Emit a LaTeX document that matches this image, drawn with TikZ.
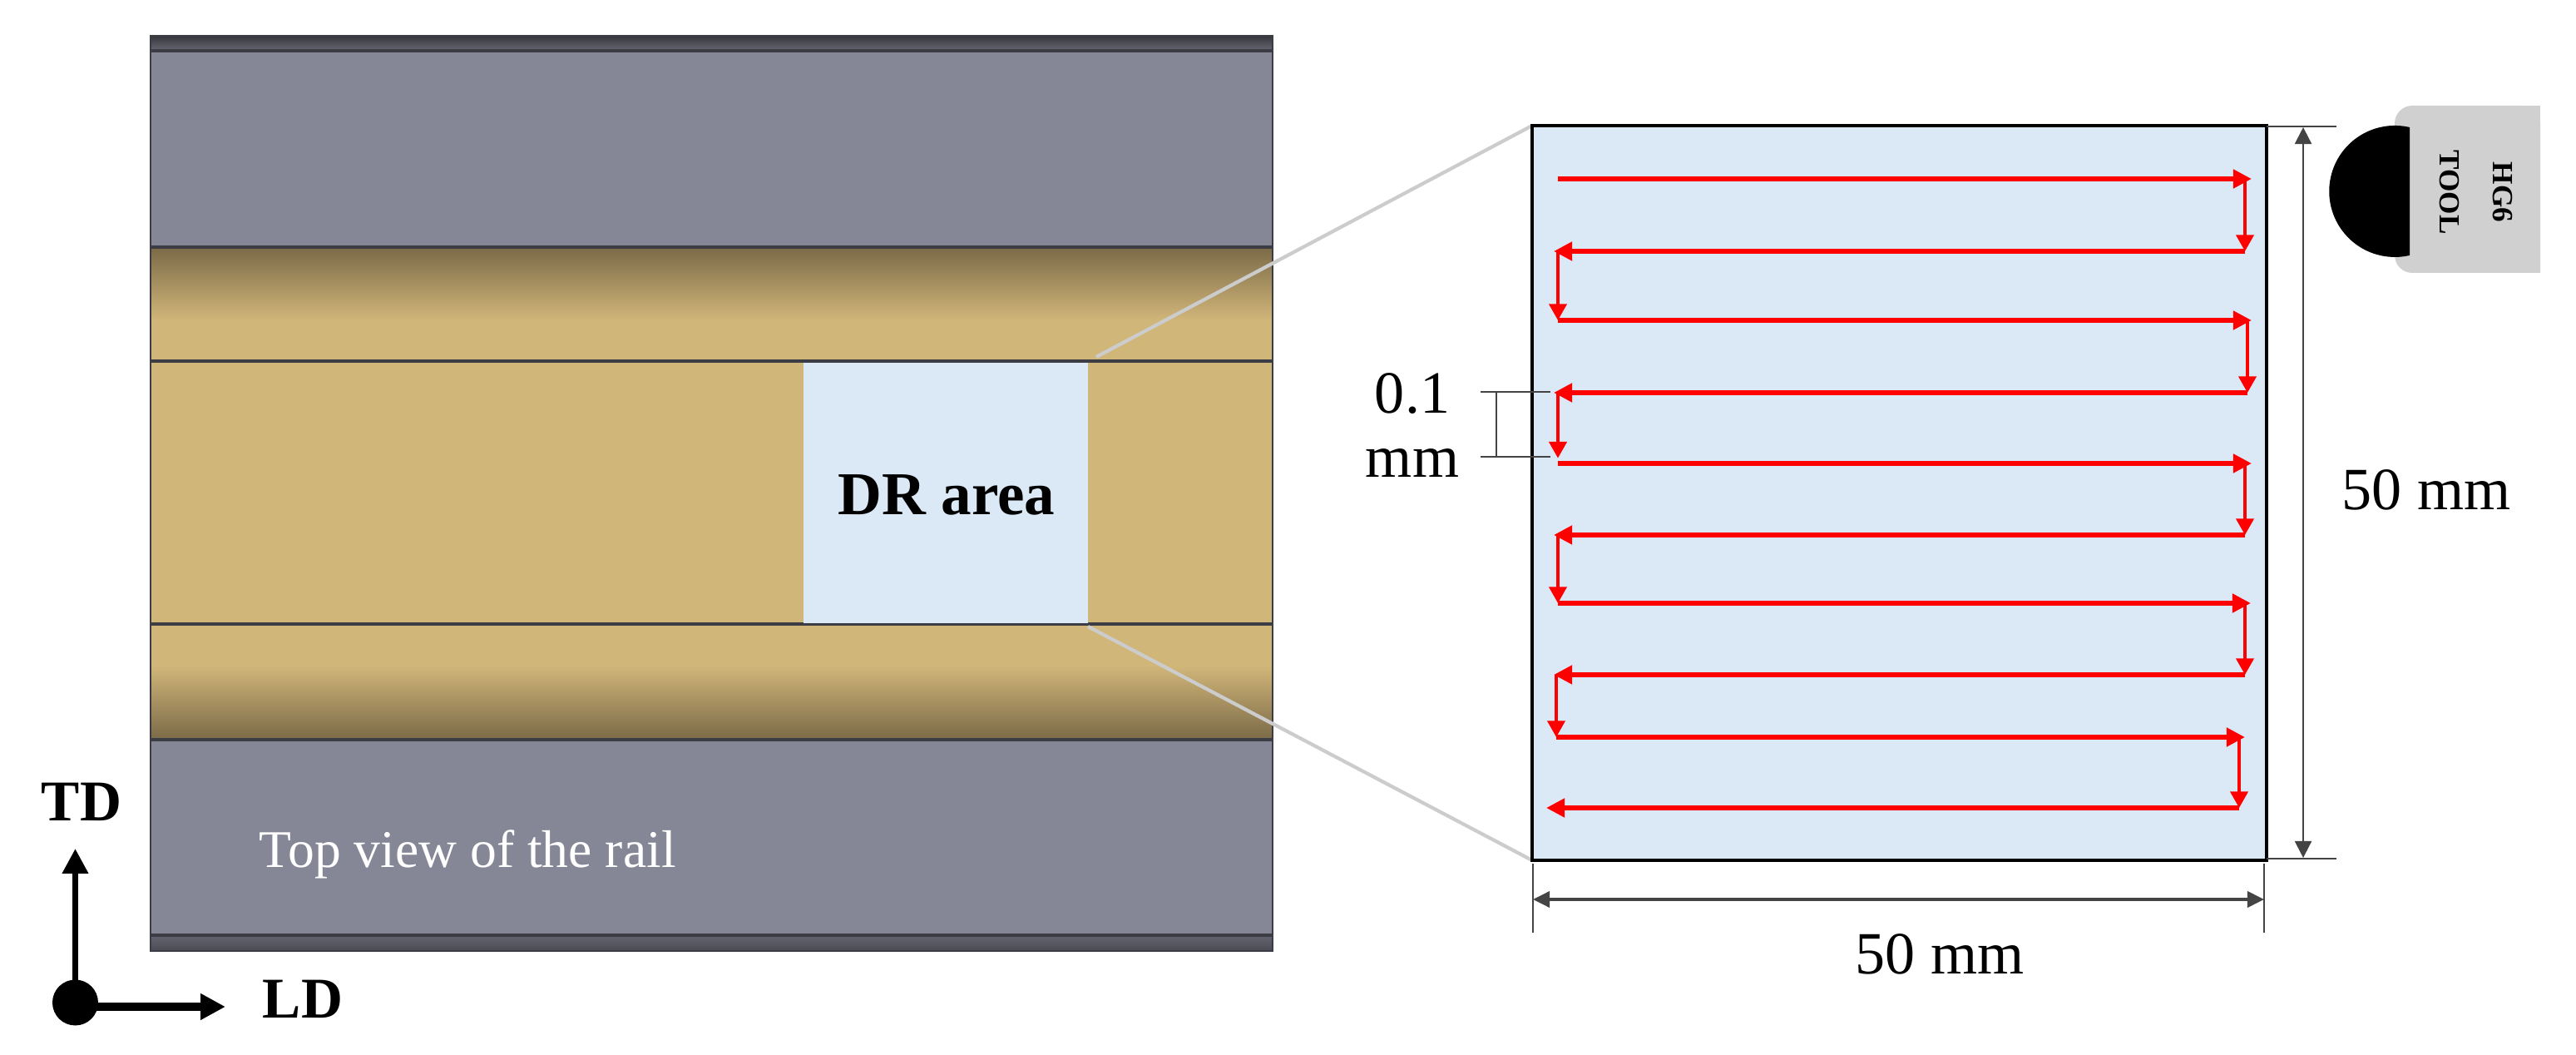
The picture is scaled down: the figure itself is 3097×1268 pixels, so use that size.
\documentclass[tikz,border=0pt]{standalone}
\usepackage{fontspec}
\setmainfont{Liberation Serif}
\usetikzlibrary{arrows.meta}
\definecolor{railgray}{HTML}{858696}
\definecolor{railedge}{HTML}{3C3C44}
\definecolor{railtan}{HTML}{D1B679}
\definecolor{raildark}{HTML}{7B6A48}
\definecolor{drblue}{HTML}{DBE8F6}
\definecolor{dimgray}{HTML}{444444}
\definecolor{toolgray}{HTML}{D0D0D0}
\tikzset{
    dimtext/.style={font=\fontsize{20.5}{22}\selectfont},
    axistext/.style={font=\fontsize{19.7}{22}\selectfont\bfseries},
    hpass/.style={draw=red, line width=1.7pt, -{Stealth[length=6.3pt, width=6.2pt, inset=0pt]}},
    vpass/.style={draw=red, line width=1.1pt, -{Stealth[length=5.6pt, width=6pt, inset=0pt]}},
    dimline/.style={draw=dimgray, line width=0.6pt},
    zoomline/.style={draw=black!20, line width=1.2pt},
    railline/.style={draw=railedge, line width=0.9pt}
}
\begin{document}
\begin{tikzpicture}[x=0.01cm, y=-0.01cm]
    \useasboundingbox (0, 0) rectangle (3097, 1268);
    % rail
    \coordinate (R1) at (181, 43);
    \coordinate (R2) at (1530, 1143);
    \fill[railgray] (R1) rectangle (R2);
    \shade[top color=black!60!railgray, bottom color=black!22!railgray] (181, 43) rectangle (1530, 61);
    \shade[top color=black!25!railgray, bottom color=black!45!railgray] (181, 1124) rectangle (1530, 1143);
    \fill[railtan] (181, 297) rectangle (1530, 889);
    \shade[top color=raildark, bottom color=railtan] (181, 297) rectangle (1530, 385);
    \shade[top color=railtan, bottom color=raildark] (181, 800) rectangle (1530, 889);
    \draw[railline] (181, 61) -- (1530, 61);
    \draw[railline] (181, 297) -- (1530, 297);
    \draw[railline] (181, 434) -- (1530, 434);
    \draw[railline] (181, 750) -- (1530, 750);
    \draw[railline] (181, 889) -- (1530, 889);
    \draw[railline] (181, 1124) -- (1530, 1124);
    \draw[draw=railedge, line width=0.7pt] (R1) rectangle (R2);
    % treated area
    \coordinate (D1) at (966, 436);
    \coordinate (D2) at (1308, 749);
    \fill[drblue] (D1) rectangle (D2);
    \node[font=\fontsize{20.8}{24}\selectfont\bfseries, anchor=base] (drlabel) at (1138, 619) {DR area};
    \node[font=\fontsize{18.1}{22}\selectfont, text=white, anchor=base west, inner sep=0pt] (railname) at (311, 1043) {Top view of the rail};
    % zoom lines
    \coordinate (Z1) at (1318, 429);
    \coordinate (Z2) at (1308, 753);
    \coordinate (P1) at (1842, 151);
    \coordinate (P2) at (2725, 1034);
    \coordinate (P3) at (1842, 1034);
    \draw[zoomline] (Z1) -- (P1);
    \draw[zoomline] (Z2) -- (P3);
    % panel
    \filldraw[fill=drblue, draw=black, line width=1.1pt] (P1) rectangle (P2);
    % tool
    \coordinate (T1) at (2879, 127);
    \coordinate (T2) at (3054, 328);
    \fill[toolgray, rounded corners=6pt] (T1) -- (T2 |- T1) [sharp corners] -- (T2) [rounded corners=6pt] -- (T1 |- T2) -- cycle;
    \fill[toolgray] (2960, 127) rectangle (T2);
    \fill[black] (2897, 153) arc[start angle=-77, end angle=-283, radius=79] -- cycle;
    \node[rotate=-90, font=\fontsize{10}{18}\selectfont\bfseries, align=center] (toolname) at (2977, 231) {HG6\\TOOL};
    % tool path
    \coordinate (a1) at (1873, 215);   \coordinate (b1) at (2707, 215);
    \coordinate (a2) at (2699, 302);   \coordinate (b2) at (1868, 302);
    \coordinate (a3) at (1873, 385);   \coordinate (b3) at (2707, 385);
    \coordinate (a4) at (2702, 472);   \coordinate (b4) at (1868, 472);
    \coordinate (a5) at (1873, 557);   \coordinate (b5) at (2707, 557);
    \coordinate (a6) at (2699, 643);   \coordinate (b6) at (1868, 643);
    \coordinate (a7) at (1873, 725);   \coordinate (b7) at (2706, 725);
    \coordinate (a8) at (2699, 811);   \coordinate (b8) at (1868, 811);
    \coordinate (a9) at (1871, 886);   \coordinate (b9) at (2699, 886);
    \coordinate (a10) at (2692, 971);  \coordinate (b10) at (1859, 971);
    \draw[hpass] (a1) -- (b1);
    \draw[hpass] (a2) -- (b2);
    \draw[hpass] (a3) -- (b3);
    \draw[hpass] (a4) -- (b4);
    \draw[hpass] (a5) -- (b5);
    \draw[hpass] (a6) -- (b6);
    \draw[hpass] (a7) -- (b7);
    \draw[hpass] (a8) -- (b8);
    \draw[hpass] (a9) -- (b9);
    \draw[hpass] (a10) -- (b10);
    \draw[vpass] (a2 |- a1) -- (a2);
    \draw[vpass] (a3 |- a2) -- (a3);
    \draw[vpass] (a4 |- a3) -- (a4);
    \draw[vpass, shorten >=1.8pt] (a5 |- a4) -- (a5);
    \draw[vpass] (a6 |- a5) -- (a6);
    \draw[vpass] (a7 |- a6) -- (a7);
    \draw[vpass] (a8 |- a7) -- (a8);
    \draw[vpass] (a9 |- a8) -- (a9);
    \draw[vpass] (a10 |- a9) -- (a10);
    % step size
    \coordinate (S1) at (1780, 471);
    \coordinate (S2) at (1864, 471);
    \coordinate (S3) at (1780, 549);
    \coordinate (S4) at (1864, 549);
    \draw[dimline] (S1) -- (S2);
    \draw[dimline] (S3) -- (S4);
    \draw[dimline] (1799, 471) -- (1799, 549);
    \node[dimtext, align=center] (steplabel) at (1698, 511) {0.1\\mm};
    % dimensions
    \coordinate (E1) at (2725, 152);
    \coordinate (E2) at (2809, 152);
    \coordinate (E3) at (2725, 1032);
    \coordinate (E4) at (2809, 1032);
    \coordinate (F1) at (1843, 1038);
    \coordinate (F2) at (1843, 1121);
    \coordinate (F3) at (2722, 1038);
    \coordinate (F4) at (2722, 1121);
    \draw[dimline] (E1) -- (E2);
    \draw[dimline] (E3) -- (E4);
    \draw[dimline] (F1) -- (F2);
    \draw[dimline] (F3) -- (F4);
    \draw[dimline, {Stealth[length=5.7pt, width=5.7pt, inset=0pt]}-{Stealth[length=5.7pt, width=5.7pt, inset=0pt]}] (2769, 153) -- (2769, 1031);
    \draw[dimline, line width=1.1pt, {Stealth[length=5.7pt, width=5.4pt, inset=0pt]}-{Stealth[length=5.7pt, width=5.4pt, inset=0pt]}] (F1 |- 0, 1081) -- (F3 |- 0, 1081);
    \node[dimtext, anchor=base] (heightlabel) at (2917, 613) {50 mm};
    \node[dimtext, anchor=base] (widthlabel) at (2332, 1171) {50 mm};
    % axes
    \coordinate (O) at (90.5, 1205);
    \coordinate (TD) at (90.5, 1020);
    \coordinate (LD) at (271, 1210);
    \draw[line width=2pt, -{Stealth[length=8.5pt, width=8.5pt, inset=0pt]}] (O) -- (TD);
    \draw[line width=2.8pt, -{Stealth[length=8.5pt, width=8.5pt, inset=0pt]}] (90.5, 1210) -- (LD);
    \fill[black] (O) circle (27.5);
    \node[axistext, anchor=base] (tdlabel) at (98, 987) {TD};
    \node[axistext, anchor=base] (ldlabel) at (364, 1223) {LD};
\end{tikzpicture}
\end{document}
